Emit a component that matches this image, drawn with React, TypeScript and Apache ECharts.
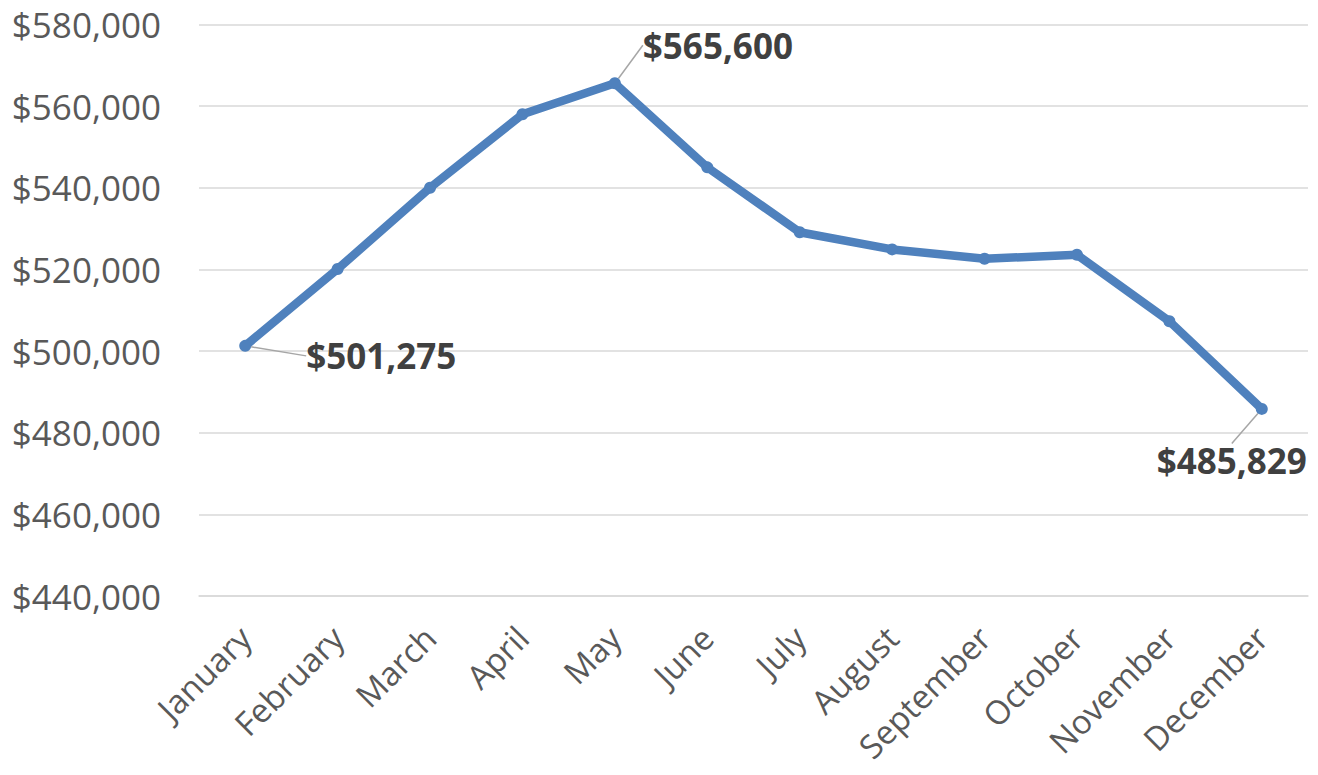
import React, { useEffect, useRef } from "react";
import * as echarts from "echarts";

const months = [
  "January", "February", "March", "April", "May", "June",
  "July", "August", "September", "October", "November", "December",
];
const revenue = [501275, 520100, 540000, 558000, 565600, 545000, 529100, 524900, 522600, 523600, 507300, 485829];
const labeledIdx = [0, 4, 11];
const yMin = 440000;
const yMax = 580000;
const yStep = 20000;

const fmt = (v: number) => "$" + v.toLocaleString("en-US");

export default function App() {
  const ref = useRef<HTMLDivElement>(null);
  useEffect(() => {
    document.body.style.margin = "0";
    if (!ref.current) return;
    const chart = echarts.init(ref.current, undefined, { renderer: "svg" });
    const offsets: Record<number, [number, number]> = {
      0: [136, 10],
      4: [103, -38],
      11: [-30, 52],
    };
    chart.setOption({
      animation: false,
      grid: { left: 199, right: 10, top: 24.5, bottom: 179, containLabel: false },
      xAxis: {
        type: "category",
        data: months,
        boundaryGap: true,
        axisLine: { show: true, lineStyle: { color: "#D9D9D9", width: 1.5 } },
        axisTick: { show: false },
        axisLabel: {
          rotate: 45,
          margin: 36,
          color: "#595959",
          fontFamily: "Open Sans",
          fontSize: 33,
          interval: 0,
        },
      },
      yAxis: {
        type: "value",
        min: yMin,
        max: yMax,
        interval: yStep,
        axisLine: { show: false },
        axisTick: { show: false },
        splitLine: { lineStyle: { color: "#D9D9D9", width: 1.5 } },
        axisLabel: {
          margin: 38,
          color: "#595959",
          fontFamily: "Open Sans",
          fontSize: 35,
          formatter: (v: number) => fmt(v),
        },
      },
      series: [
        {
          type: "line",
          data: revenue.map((v, i) => ({
            value: v,
            label: {
              show: labeledIdx.includes(i),
            },
          })),
          symbol: "circle",
          symbolSize: 12,
          lineStyle: { color: "#4F81BD", width: 8.5 },
          itemStyle: { color: "#4F81BD" },
          label: {
            position: "inside",
            formatter: (p: any) => fmt(p.value),
            color: "#404040",
            fontFamily: "Open Sans",
            fontWeight: "bold",
            fontSize: 35,
          },
          labelLine: {
            show: true,
            lineStyle: { color: "#A6A6A6", width: 1.5 },
          },
          labelLayout: (params: any) => {
            const o = offsets[params.dataIndex];
            if (!o) return {};
            return { dx: o[0], dy: o[1] };
          },
        },
      ],
    });
    return () => chart.dispose();
  }, []);
  return <div ref={ref} style={{ width: 1318, height: 775 }} />;
}
